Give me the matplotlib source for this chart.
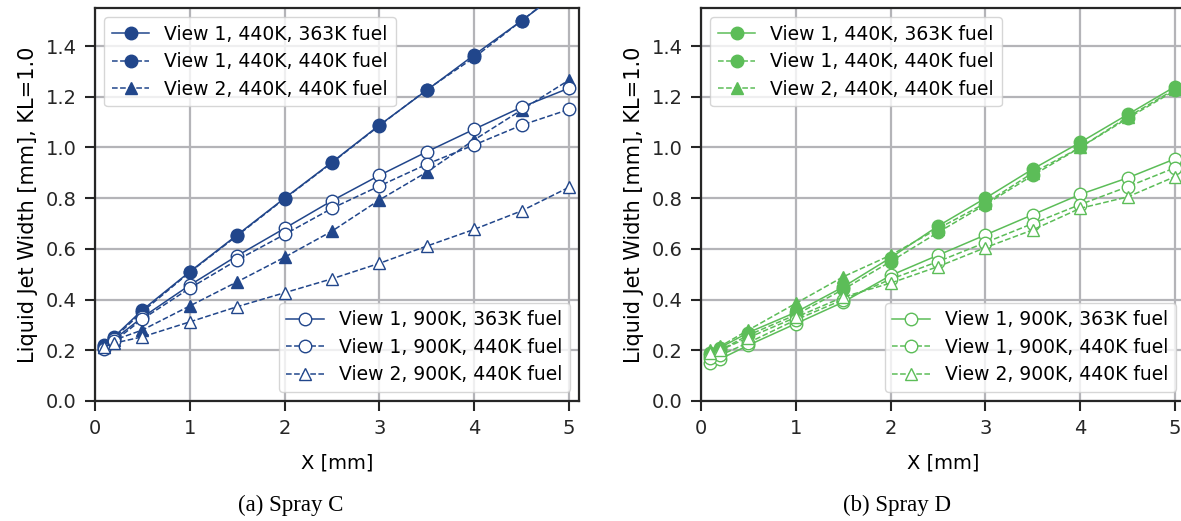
import numpy as np
import matplotlib
matplotlib.use("Agg")
import matplotlib.pyplot as plt

# distance along the spray axis [mm]
x_mm = [0.1, 0.2, 0.5, 1.0, 1.5, 2.0, 2.5, 3.0, 3.5, 4.0, 4.5, 5.0]

# Spray C (left)
c_v1_440_363 = [0.22, 0.253, 0.359, 0.51, 0.655, 0.80, 0.942, 1.088, 1.226, 1.365, 1.50, 1.64]
c_v1_440_440 = [0.215, 0.248, 0.352, 0.508, 0.652, 0.798, 0.94, 1.086, 1.228, 1.355, 1.50, 1.645]
c_v2_440_440 = [0.213, 0.24, 0.28, 0.375, 0.47, 0.567, 0.67, 0.793, 0.903, 1.03, 1.148, 1.266]
c_v1_900_363 = [0.21, 0.243, 0.33, 0.457, 0.573, 0.681, 0.79, 0.89, 0.983, 1.072, 1.159, 1.234]
c_v1_900_440 = [0.205, 0.235, 0.323, 0.445, 0.556, 0.657, 0.76, 0.848, 0.934, 1.01, 1.088, 1.15]
c_v2_900_440 = [0.213, 0.228, 0.253, 0.312, 0.372, 0.427, 0.482, 0.543, 0.611, 0.677, 0.75, 0.843]

# Spray D (right)
d_v1_440_363 = [0.19, 0.21, 0.27, 0.35, 0.45, 0.565, 0.69, 0.80, 0.915, 1.02, 1.13, 1.24]
d_v1_440_440 = [0.18, 0.20, 0.26, 0.34, 0.44, 0.55, 0.665, 0.775, 0.89, 1.0, 1.115, 1.225]
d_v2_440_440 = [0.20, 0.215, 0.28, 0.385, 0.49, 0.575, 0.68, 0.78, 0.90, 1.0, 1.12, 1.23]
d_v1_900_363 = [0.15, 0.165, 0.22, 0.305, 0.39, 0.495, 0.575, 0.655, 0.735, 0.815, 0.88, 0.955]
d_v1_900_440 = [0.17, 0.18, 0.23, 0.32, 0.40, 0.48, 0.55, 0.625, 0.70, 0.775, 0.845, 0.92]
d_v2_900_440 = [0.19, 0.20, 0.25, 0.33, 0.41, 0.465, 0.53, 0.605, 0.675, 0.76, 0.805, 0.885]

labels_hot = ["View 1, 440K, 363K fuel", "View 1, 440K, 440K fuel", "View 2, 440K, 440K fuel"]
labels_cold = ["View 1, 900K, 363K fuel", "View 1, 900K, 440K fuel", "View 2, 900K, 440K fuel"]
captions = ["(a) Spray C", "(b) Spray D"]

blue = "#21468b"
green = "#5cbd58"

plt.rcParams["font.family"] = "DejaVu Sans"
plt.rcParams["font.size"] = 14

fig = plt.figure(figsize=(11.81, 5.21), dpi=100)
ax_c = fig.add_axes([95 / 1181, 1 - 401 / 521, 484 / 1181, 393 / 521])
ax_d = fig.add_axes([701 / 1181, 1 - 401 / 521, 484 / 1181, 393 / 521])


def draw_panel(ax, col, hot, cold):
    styles = [("-", "o"), ("--", "o"), ("--", "^")]
    h_hot = []
    for (ls, mk), y, lab in zip(styles, hot, labels_hot):
        h, = ax.plot(x_mm, y, ls=ls, marker=mk, color=col, lw=1.1, ms=9,
                     mfc=col, mec=col, label=lab, zorder=3)
        h_hot.append(h)
    h_cold = []
    for (ls, mk), y, lab in zip(styles, cold, labels_cold):
        h, = ax.plot(x_mm, y, ls=ls, marker=mk, color=col, lw=1.1, ms=9,
                     mfc="white", mec=col, label=lab, zorder=3)
        h_cold.append(h)

    ax.set_xlim(0, 5.105)
    ax.set_ylim(0, 1.55)
    ax.set_xticks([0, 1, 2, 3, 4, 5])
    ax.set_yticks(np.arange(0, 1.41, 0.2))
    ax.grid(True, color="#b4b4b8", lw=1.6, zorder=0)
    ax.set_axisbelow(True)
    for s in ax.spines.values():
        s.set_color("#262626")
        s.set_linewidth(1.6)
    ax.tick_params(direction="out", length=7, width=1.5, colors="#262626",
                   labelsize=14, pad=6)
    ax.set_xlabel("X [mm]", fontsize=14, labelpad=11)
    ax.set_ylabel("Liquid Jet Width [mm], KL=1.0", fontsize=15, labelpad=6)

    leg1 = ax.legend(handles=h_hot, loc="upper left", fontsize=13.5,
                     framealpha=0.8, borderaxespad=0.5, labelspacing=0.45)
    ax.add_artist(leg1)
    ax.legend(handles=h_cold, loc="lower right", fontsize=13.5,
              framealpha=0.8, borderaxespad=0.5, labelspacing=0.45)


draw_panel(ax_c, blue, [c_v1_440_363, c_v1_440_440, c_v2_440_440],
           [c_v1_900_363, c_v1_900_440, c_v2_900_440])
draw_panel(ax_d, green, [d_v1_440_363, d_v1_440_440, d_v2_440_440],
           [d_v1_900_363, d_v1_900_440, d_v2_900_440])

fig.text(291 / 1181, 1 - 505 / 521, captions[0], ha="center", va="center",
         family="Liberation Serif", fontsize=16.5)
fig.text(897 / 1181, 1 - 505 / 521, captions[1], ha="center", va="center",
         family="Liberation Serif", fontsize=16.5)

fig.savefig("out.png", dpi=100)
